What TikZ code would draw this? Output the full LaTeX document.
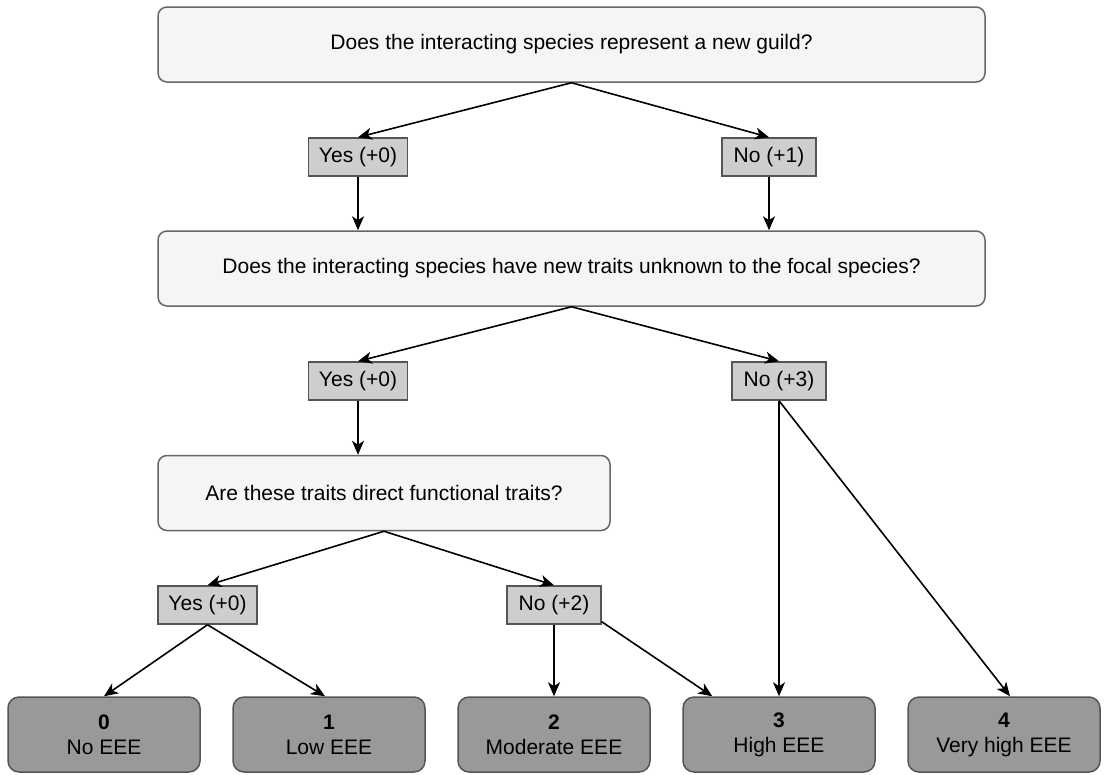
\documentclass[tikz,border=0pt]{standalone}
\usepackage{fontspec}
\setmainfont{Liberation Sans}
\usetikzlibrary{arrows.meta,calc}
\definecolor{qfill}{HTML}{F5F5F5}
\definecolor{qborder}{HTML}{666666}
\definecolor{lfill}{HTML}{CECECE}
\definecolor{lborder}{HTML}{555555}
\definecolor{rfill}{HTML}{999999}
\definecolor{rborder}{HTML}{555555}
\begin{document}
\begin{tikzpicture}[x=1pt,y=-1pt,
  font=\fontsize{21}{25}\selectfont,
  qbox/.style={draw=qborder, fill=qfill, rounded corners=9pt, line width=1.5pt, minimum height=75pt, inner sep=0pt},
  labbox/.style={draw=lborder, fill=lfill, line width=1.5pt, minimum height=38pt, inner sep=0pt},
  resbox/.style={draw=rborder, fill=rfill, rounded corners=11pt, line width=1.5pt, minimum width=192pt, minimum height=75pt, align=center, inner sep=0pt},
  arr/.style={-{Stealth[length=14pt,width=12pt,inset=4pt]}, line width=1.6pt}]
\useasboundingbox (0,0) rectangle (1113,774);

\node[qbox, minimum width=827pt] (q1) at (571.5,44.5) {Does the interacting species represent a new guild?};
\node[labbox, minimum width=99pt] (y1) at (358,157) {Yes (+0)};
\node[labbox, minimum width=94pt] (n1) at (769,157) {No (+1)};
\node[qbox, minimum width=827pt] (q2) at (571.5,268.5) {Does the interacting species have new traits unknown to the focal species?};
\node[labbox, minimum width=99pt] (y2) at (358,381) {Yes (+0)};
\node[labbox, minimum width=94pt] (n2) at (779,381) {No (+3)};
\node[qbox, minimum width=452pt] (q3) at (384,493) {Are these traits direct functional traits?};
\node[labbox, minimum width=99pt] (y3) at (207.5,605) {Yes (+0)};
\node[labbox, minimum width=94pt] (n3) at (554,605) {No (+2)};

\node[resbox] (b0) at (104,734.5) {\textbf{0}\\No EEE};
\node[resbox] (b1) at (329,734.5) {\textbf{1}\\Low EEE};
\node[resbox] (b2) at (554,734.5) {\textbf{2}\\Moderate EEE};
\node[resbox] (b3) at (779,734.5) {\textbf{3}\\High EEE};
\node[resbox] (b4) at (1004,734.5) {\textbf{4}\\Very high EEE};

\draw[arr] (q1.south) -- (y1.north);
\draw[arr] (q1.south) -- (n1.north);
\draw[arr] (y1.south) -- (y1.south |- q2.north);
\draw[arr] (n1.south) -- (n1.south |- q2.north);
\draw[arr] (q2.south) -- (y2.north);
\draw[arr] (q2.south) -- (n2.north);
\draw[arr] (y2.south) -- (y2.south |- q3.north);
\draw[arr] (q3.south) -- (y3.north);
\draw[arr] (q3.south) -- (n3.north);
\draw[arr] (y3.south) -- (b0.north);
\draw[arr] (y3.south) -- ($(b1.north)+(-4,0)$);
\draw[arr] (n3.south) -- (b2.north);
\draw[arr] ($(n3.south east)+(0,-3)$) -- ($(b3.north west)+(30,0)$);
\draw[arr] (n2.south) -- (b3.north);
\draw[arr] (n2.south) -- ($(b4.north)+(6,0)$);
\end{tikzpicture}
\end{document}
